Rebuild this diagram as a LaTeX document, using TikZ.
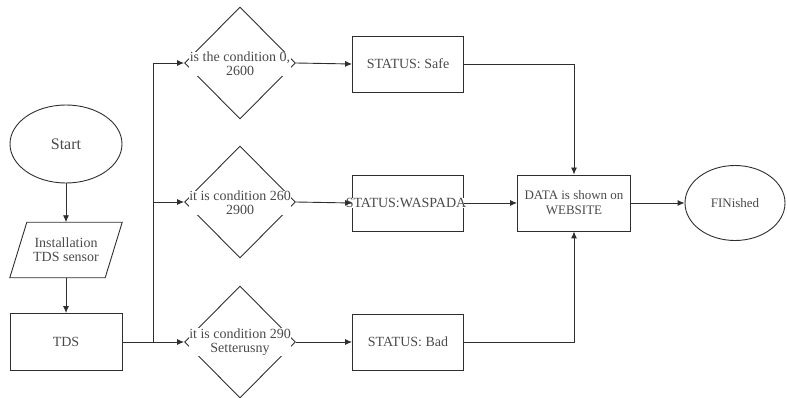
\documentclass[tikz,border=0pt]{standalone}
\usepackage{fontspec}
\setmainfont{Liberation Serif}
\usetikzlibrary{shapes.geometric,arrows.meta,calc}
\definecolor{ln}{HTML}{2E2E2E}
\definecolor{tx}{HTML}{4A4A4A}
\begin{document}
\begin{tikzpicture}[x=1pt,y=1pt,
  every node/.style={text=tx,font=\fontsize{14}{14}\selectfont,align=center},
  box/.style={draw=ln,line width=0.9pt,minimum width=111pt,minimum height=56pt,inner sep=0pt},
  dia/.style={draw=ln,line width=0.9pt,diamond,minimum width=111pt,minimum height=112pt,inner sep=0pt},
  oval/.style={draw=ln,line width=0.9pt,ellipse,inner sep=0pt},
  dtext/.style={fill=white,inner sep=0.5pt},
  conn/.style={draw=ln,line width=0.9pt},
  arr/.style={conn,-{Latex[length=7pt,width=6pt]}}]
\useasboundingbox (0,0) rectangle (787,-398);
% left column
\node[oval,minimum width=112pt,minimum height=78pt,font=\fontsize{16}{16}\selectfont] (start) at (66,-144) {Start};
\node[minimum width=112pt,minimum height=55pt,inner sep=0pt] (inst) at (66,-250) {Installation\\TDS sensor};
\draw[ln,line width=0.9pt] (inst.south west) -- ([xshift=17pt]inst.north west) -- (inst.north east) -- ([xshift=-17pt]inst.south east) -- cycle;
\node[box,minimum width=112pt,minimum height=57pt] (tds) at (66,-342) {\raisebox{-7pt}{TDS}};
% diamonds
\node[dia] (d1) at (240,-63) {};
\node[dtext] (t1) at (240,-64) {is the condition 0,\\2600};
\node[dia] (d2) at (240,-202) {};
\node[dtext] (t2) at (240,-203) {it is condition 260\\2900};
\node[dia] (d3) at (240,-342) {};
\node[dtext] (t3) at (240,-342) {it is condition 290\\Setterusny};
% status boxes
\node[box] (safe) at (408,-64) {STATUS: Safe};
\node[box] (wasp) at (408,-203) {};
\node[dtext,inner sep=0pt] (twasp) at (406,-203) {STATUS:WASPADA};
\node[box] (bad) at (408,-342) {STATUS: Bad};
% data and finish
\node[box,minimum width=113pt,font=\fontsize{13}{15}\selectfont] (data) at (574,-203) {DATA is shown on\\WEBSITE};
\node[oval,minimum width=100pt,minimum height=75pt,font=\fontsize{13}{13}\selectfont] (fin) at (735,-203) {FINished};
% connectors
\coordinate (j3) at (153,-342);
\coordinate (j1) at (153,-63);
\coordinate (j2) at (153,-202);
\draw[arr] (start) -- (inst);
\draw[arr] (inst) -- (tds);
\draw[arr] (tds.east) -- (d3.west);
\draw[conn] (j3) -- (j1);
\draw[arr] (j1) -- (d1.west);
\draw[arr] (j2) -- (d2.west);
\draw[arr] (d1.east) -- (safe.west);
\draw[arr] (d2.east) -- (wasp.west);
\draw[arr] (d3.east) -- (bad.west);
\draw[arr] (safe.east) -| (data.north);
\draw[arr] (bad.east) -| (data.south);
\draw[arr] (wasp.east) -- (data.west);
\draw[arr] (data.east) -- (fin.west);
\end{tikzpicture}
\end{document}
